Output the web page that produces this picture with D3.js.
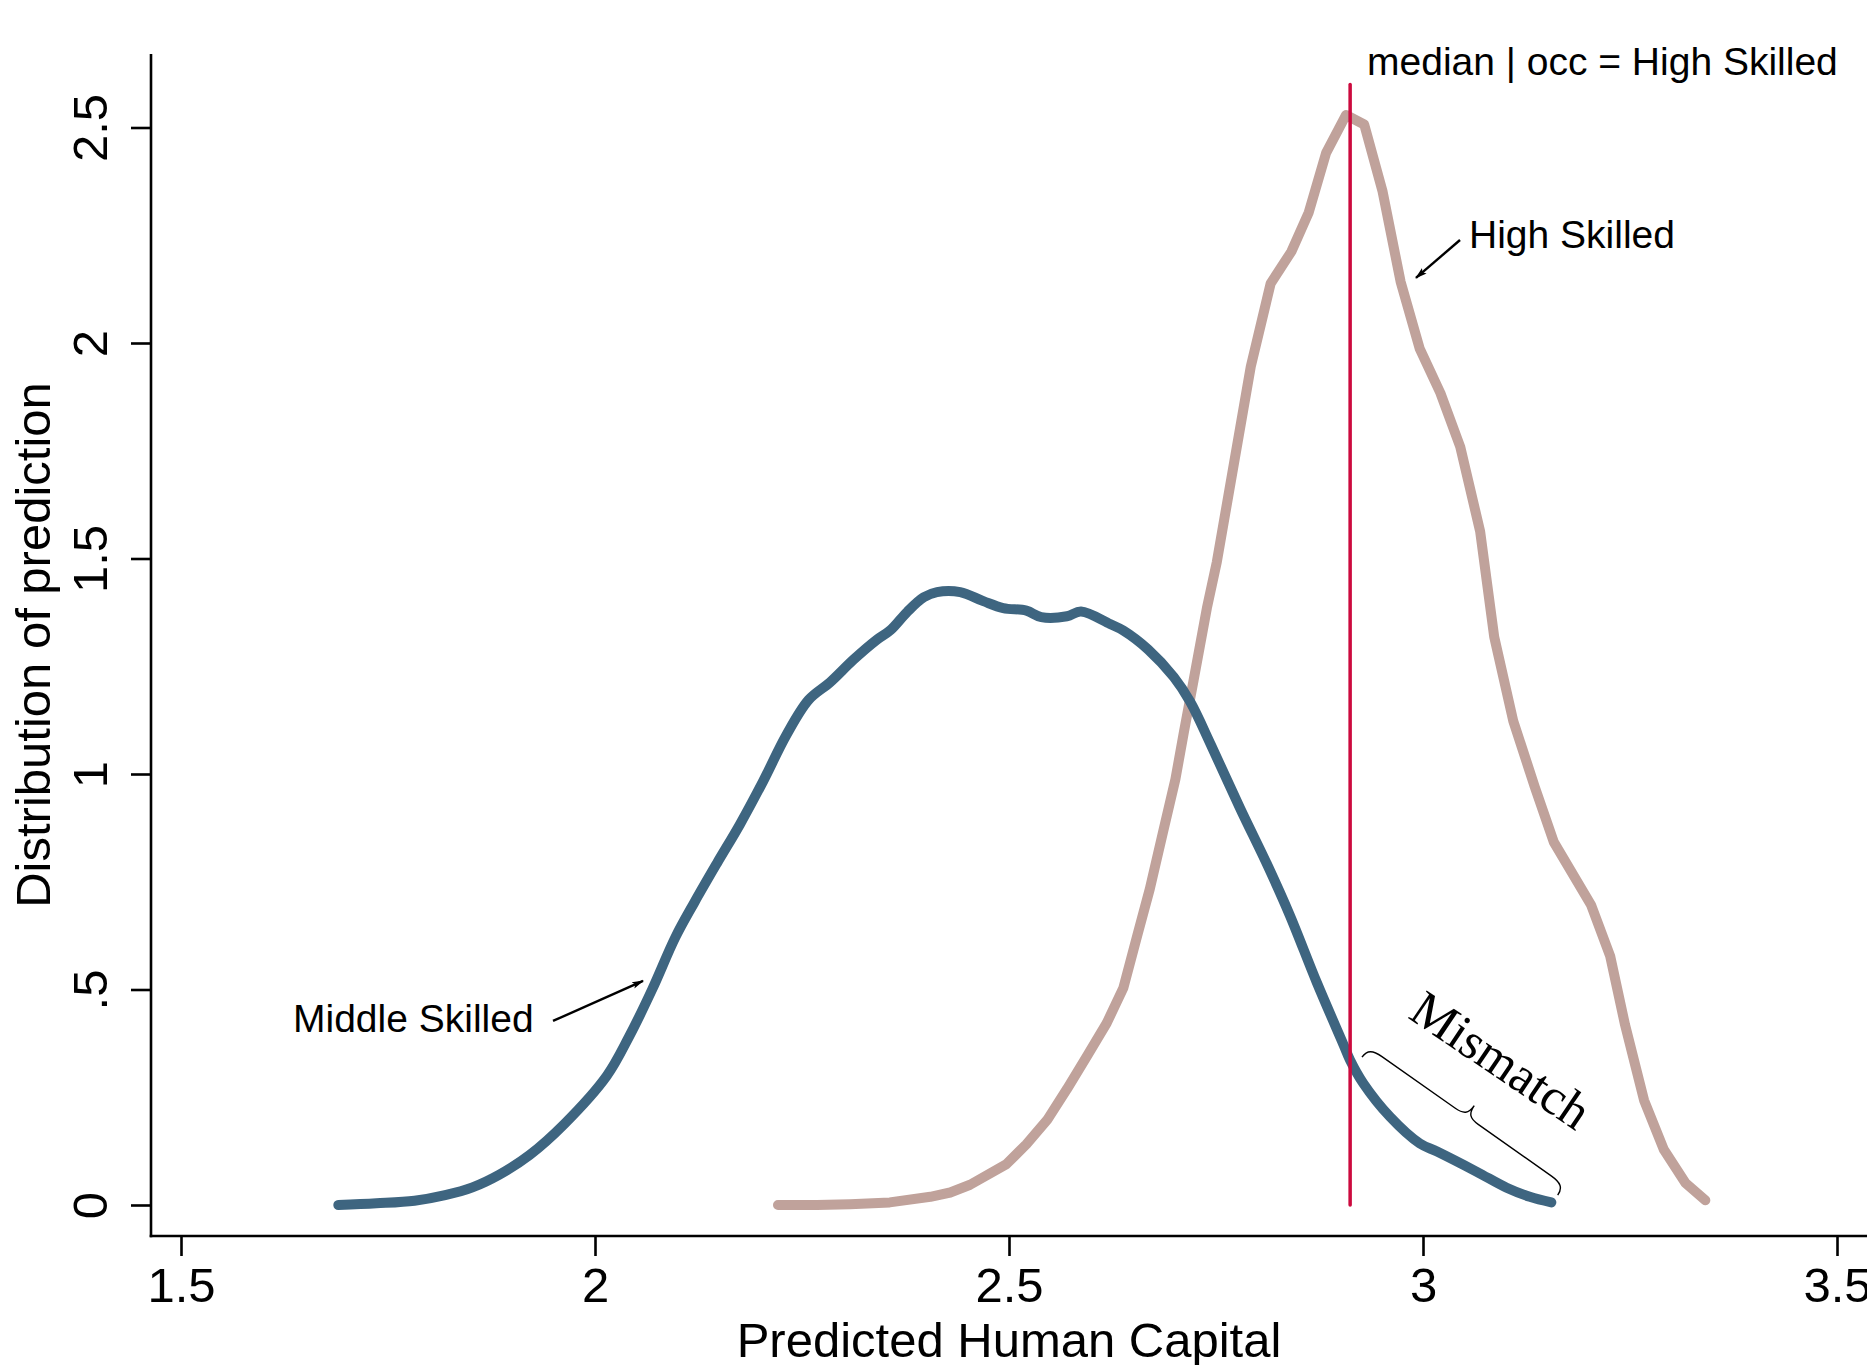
<!DOCTYPE html>
<html>
<head>
<meta charset="utf-8">
<script src="https://cdn.jsdelivr.net/npm/d3@7"></script>
<style>
  body { margin: 0; background: #fff; }
  svg { display: block; font-family: "Liberation Sans", Arial, Helvetica, sans-serif; }
</style>
</head>
<body>
<div id="chart"></div>
<script>
// kernel densities of predicted human capital
const MIDDLE_X = [1.690, 1.736, 1.782, 1.819, 1.852, 1.884, 1.921, 1.963, 2.014, 2.041,
  2.069, 2.097, 2.120, 2.147, 2.175, 2.203, 2.231, 2.258, 2.284, 2.312,
  2.340, 2.357, 2.377, 2.397, 2.413, 2.441, 2.469, 2.493, 2.521, 2.539,
  2.570, 2.587, 2.622, 2.638, 2.668, 2.699, 2.719, 2.744, 2.779, 2.813,
  2.839, 2.872, 2.904, 2.912, 2.928, 2.960, 2.996, 3.017, 3.065, 3.101,
  3.129, 3.155];
const MIDDLE_Y = [0.000, 0.004, 0.010, 0.023, 0.041, 0.070, 0.116, 0.188, 0.299, 0.390,
  0.500, 0.621, 0.702, 0.792, 0.883, 0.983, 1.090, 1.172, 1.213, 1.265,
  1.311, 1.334, 1.376, 1.410, 1.422, 1.422, 1.401, 1.385, 1.379, 1.364,
  1.366, 1.377, 1.348, 1.333, 1.289, 1.225, 1.167, 1.067, 0.921, 0.785,
  0.673, 0.515, 0.372, 0.336, 0.282, 0.205, 0.143, 0.124, 0.077, 0.040,
  0.019, 0.006];

const HIGH_X = [2.221, 2.268, 2.308, 2.356, 2.405, 2.429, 2.453, 2.497, 2.521, 2.546,
  2.570, 2.594, 2.618, 2.638, 2.655, 2.670, 2.686, 2.701, 2.711, 2.723,
  2.739, 2.751, 2.792, 2.816, 2.841, 2.862, 2.883, 2.907, 2.929, 2.951,
  2.973, 2.996, 3.021, 3.045, 3.069, 3.086, 3.109, 3.135, 3.158, 3.203,
  3.226, 3.244, 3.267, 3.291, 3.317, 3.341];
const HIGH_Y = [0.000, 0.000, 0.002, 0.006, 0.019, 0.029, 0.047, 0.095, 0.141, 0.197,
  0.269, 0.345, 0.422, 0.503, 0.626, 0.733, 0.865, 0.988, 1.095, 1.218,
  1.385, 1.492, 1.945, 2.138, 2.212, 2.303, 2.441, 2.529, 2.507, 2.353,
  2.142, 1.987, 1.884, 1.759, 1.563, 1.318, 1.123, 0.970, 0.842, 0.696,
  0.578, 0.418, 0.243, 0.128, 0.051, 0.011];

const X_TICKS = [1.5, 2, 2.5, 3, 3.5];
const X_TICK_LABELS = ["1.5", "2", "2.5", "3", "3.5"];
const Y_TICKS = [0, 0.5, 1, 1.5, 2, 2.5];
const Y_TICK_LABELS = ["0", ".5", "1", "1.5", "2", "2.5"];

// median of the high skilled distribution
const MEDIAN_HIGH = 2.912;
const MEDIAN_TOP = 2.6;

// annotations, in data units
const MEDIAN_LABEL = { text: "median | occ = High Skilled", x: 2.9324, y: 2.622 };
const HIGH_LABEL = { text: "High Skilled", x: 3.0556, y: 2.220 };
const HIGH_ARROW = [[3.0447, 2.239], [2.9915, 2.151]];
const MIDDLE_LABEL = { text: "Middle Skilled", x: 1.6353, y: 0.401 };
const MIDDLE_ARROW = [[1.9493, 0.427], [2.0580, 0.520]];
const BRACE = [[2.9263, 0.343], [3.1627, 0.023]];
const MISMATCH_LABEL = { text: "Mismatch", x: 3.0825, y: 0.3035 };

var width = 1867,
    height = 1365;

var svg = d3.select("#chart").append("svg")
  .attr("width", width)
  .attr("height", height);

const x = d3.scaleLinear().domain([1.5, 3.5]).range([181, 1837]);
const y = d3.scaleLinear().domain([0, 2.5]).range([1205, 127.5]);

const axisX = 151, axisY = 1236, axisTop = 54;

// arrow head
svg.append("defs").append("marker")
    .attr("id", "head")
    .attr("markerUnits", "userSpaceOnUse")
    .attr("viewBox", "0 -5 12 10")
    .attr("refX", 11)
    .attr("refY", 0)
    .attr("markerWidth", 12)
    .attr("markerHeight", 10)
    .attr("orient", "auto")
  .append("path")
    .attr("d", "M0,-3.5L12,0L0,3.5L2.5,0Z")
    .attr("fill", "#000");

// axes
var yAxis = svg.append("g")
    .attr("transform", "translate(" + axisX + ",0)")
    .call(d3.axisLeft(y).tickValues(Y_TICKS).tickSize(20)
      .tickFormat((d, i) => Y_TICK_LABELS[i]));
yAxis.select(".domain").remove();
yAxis.selectAll(".tick line").attr("stroke", "#000").attr("stroke-width", 2.6);
yAxis.selectAll(".tick text")
    .attr("x", null).attr("dy", null)
    .attr("text-anchor", "middle")
    .attr("transform", "translate(-44,0) rotate(-90)")
    .style("font-size", "49px")
    .style("font-family", "'Liberation Sans', Arial, sans-serif")
    .attr("fill", "#000");

var xAxis = svg.append("g")
    .attr("transform", "translate(0," + axisY + ")")
    .call(d3.axisBottom(x).tickValues(X_TICKS).tickSize(20).tickPadding(11)
      .tickFormat((d, i) => X_TICK_LABELS[i]));
xAxis.select(".domain").remove();
xAxis.selectAll(".tick line").attr("stroke", "#000").attr("stroke-width", 2.6);
xAxis.selectAll(".tick text")
    .style("font-size", "49px")
    .style("font-family", "'Liberation Sans', Arial, sans-serif")
    .attr("fill", "#000");

svg.append("line")
    .attr("x1", axisX).attr("x2", axisX)
    .attr("y1", axisTop).attr("y2", axisY + 1.3)
    .attr("stroke", "#000").attr("stroke-width", 2.6);
svg.append("line")
    .attr("x1", axisX - 1.3).attr("x2", width)
    .attr("y1", axisY).attr("y2", axisY)
    .attr("stroke", "#000").attr("stroke-width", 2.6);

// axis titles
svg.append("text")
    .attr("x", (axisX + width) / 2)
    .attr("y", 1357)
    .attr("text-anchor", "middle")
    .style("font-size", "49px")
    .text("Predicted Human Capital");

svg.append("text")
    .attr("transform", "translate(50," + ((axisTop + axisY) / 2) + ") rotate(-90)")
    .attr("text-anchor", "middle")
    .style("font-size", "49px")
    .text("Distribution of prediction");

// density curves
const middle = MIDDLE_X.map((v, i) => [v, MIDDLE_Y[i]]);
const high = HIGH_X.map((v, i) => [v, HIGH_Y[i]]);

svg.append("path")
    .datum(high)
    .attr("d", d3.line().x(d => x(d[0])).y(d => y(d[1])))
    .attr("fill", "none")
    .attr("stroke", "#c0a29b")
    .attr("stroke-width", 10)
    .attr("stroke-linecap", "round")
    .attr("stroke-linejoin", "round");

svg.append("path")
    .datum(middle)
    .attr("d", d3.line().curve(d3.curveCatmullRom).x(d => x(d[0])).y(d => y(d[1])))
    .attr("fill", "none")
    .attr("stroke", "#3e6580")
    .attr("stroke-width", 10)
    .attr("stroke-linecap", "round")
    .attr("stroke-linejoin", "round");

// median line
svg.append("line")
    .attr("x1", x(MEDIAN_HIGH)).attr("x2", x(MEDIAN_HIGH))
    .attr("y1", y(0)).attr("y2", y(MEDIAN_TOP))
    .attr("stroke", "#cc0a3e")
    .attr("stroke-width", 3.5)
    .attr("stroke-linecap", "round");

// labels and arrows
[MEDIAN_LABEL, HIGH_LABEL, MIDDLE_LABEL].forEach(l => {
  svg.append("text")
      .attr("x", x(l.x))
      .attr("y", y(l.y))
      .style("font-size", "39px")
      .text(l.text);
});

[HIGH_ARROW, MIDDLE_ARROW].forEach(a => {
  svg.append("line")
      .attr("x1", x(a[0][0])).attr("y1", y(a[0][1]))
      .attr("x2", x(a[1][0])).attr("y2", y(a[1][1]))
      .attr("stroke", "#000")
      .attr("stroke-width", 2.4)
      .attr("marker-end", "url(#head)");
});

// curly brace over the mismatch region
var b0 = [x(BRACE[0][0]), y(BRACE[0][1])],
    b1 = [x(BRACE[1][0]), y(BRACE[1][1])];
var bl = Math.hypot(b1[0] - b0[0], b1[1] - b0[1]),
    ba = Math.atan2(b1[1] - b0[1], b1[0] - b0[0]) * 180 / Math.PI,
    h = 12, m = bl / 2;
svg.append("path")
    .attr("transform", "translate(" + b0 + ") rotate(" + ba + ")")
    .attr("d", "M0,0 C0,-9 5,-" + h + " 16,-" + h +
      " L" + (m - 14) + ",-" + h +
      " C" + (m - 4) + ",-" + h + " " + m + ",-" + (h + 3) + " " + m + ",-" + (2 * h + 1) +
      " C" + m + ",-" + (h + 3) + " " + (m + 4) + ",-" + h + " " + (m + 14) + ",-" + h +
      " L" + (bl - 16) + ",-" + h +
      " C" + (bl - 5) + ",-" + h + " " + bl + ",-9 " + bl + ",0")
    .attr("fill", "none")
    .attr("stroke", "#000")
    .attr("stroke-width", 1.4);

svg.append("text")
    .attr("transform", "translate(" + x(MISMATCH_LABEL.x) + "," + y(MISMATCH_LABEL.y) + ") rotate(34)")
    .attr("text-anchor", "middle")
    .style("font-family", "'Liberation Serif', 'Times New Roman', serif")
    .style("font-size", "51px")
    .text(MISMATCH_LABEL.text);
</script>
</body>
</html>
